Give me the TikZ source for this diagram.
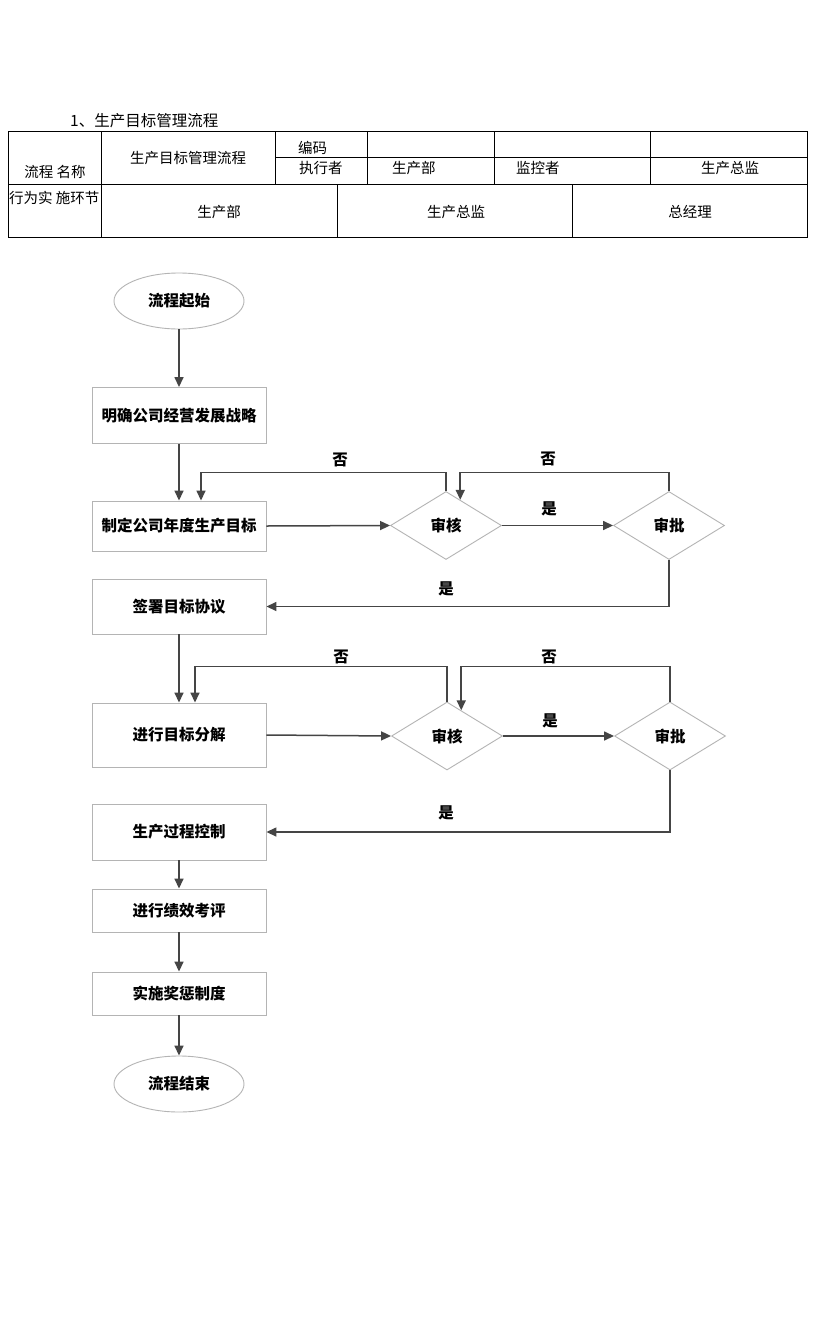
\documentclass[tikz,border=0pt]{standalone}
\usepackage{fontspec}
\setmainfont{Noto Sans CJK SC}
\usetikzlibrary{arrows.meta,shapes.geometric,calc}
\definecolor{arrowc}{HTML}{454545}
\definecolor{borderc}{HTML}{B4B4B4}
\tikzset{
  tbl/.style={draw=black,line width=0.9pt},
  ttext/.style={font=\fontsize{14.5}{16}\selectfont,inner sep=0pt},
  stepbox/.style={draw=borderc,line width=0.9pt,rectangle,minimum width=174pt,inner sep=0pt,font=\bfseries\fontsize{15.5}{18}\selectfont},
  term/.style={draw=borderc,line width=0.9pt,ellipse,minimum width=130pt,minimum height=56pt,inner sep=0pt,font=\bfseries\fontsize{15.5}{18}\selectfont},
  decide/.style={draw=borderc,line width=0.9pt,diamond,minimum width=111pt,minimum height=68pt,inner sep=0pt,font=\bfseries\fontsize{15.5}{18}\selectfont},
  arr/.style={draw=arrowc,line width=1.5pt,-{Triangle[length=10pt,width=9pt]}},
  lbl/.style={font=\bfseries\fontsize{15.5}{18}\selectfont,inner sep=0pt}
}
\begin{document}
\begin{tikzpicture}[x=1pt,y=-1pt]
\useasboundingbox[fill=white] (0,0) rectangle (816,1344);
% title
\node[ttext,anchor=west,font=\fontsize{15.5}{17}\selectfont] (title) at (70,121) {1、生产目标管理流程};
% table
\draw[tbl] (8,131) rectangle (807,237);
\draw[tbl] (8,184) -- (807,184);
\draw[tbl] (275,157) -- (807,157);
\draw[tbl] (101,131) -- (101,237);
\draw[tbl] (275,131) -- (275,184);
\draw[tbl] (367,131) -- (367,184);
\draw[tbl] (494,131) -- (494,184);
\draw[tbl] (650,131) -- (650,184);
\draw[tbl] (337,184) -- (337,237);
\draw[tbl] (572,184) -- (572,237);
\node[ttext] (t1) at (55,172) {流程 名称};
\node[ttext] (t2) at (188,158) {生产目标管理流程};
\node[ttext,anchor=west] (t3) at (298,148) {编码};
\node[ttext,anchor=west] (t4) at (299,168) {执行者};
\node[ttext,anchor=west] (t5) at (392,168) {生产部};
\node[ttext,anchor=west] (t6) at (516,168) {监控者};
\node[ttext] (t7) at (730,168) {生产总监};
\node[ttext,anchor=west] (t8) at (9,198) {行为实 施环节};
\node[ttext] (t9) at (219,212) {生产部};
\node[ttext] (t10) at (456,212) {生产总监};
\node[ttext] (t11) at (690,212) {总经理};
% flowchart nodes
\node[term] (start) at (179,301) {流程起始};
\node[stepbox,minimum height=56pt] (b1) at (179,415.5) {明确公司经营发展战略};
\node[stepbox,minimum height=50pt] (b2) at (179,526) {制定公司年度生产目标};
\node[stepbox,minimum height=55pt] (b3) at (179,606.5) {签署目标协议};
\node[stepbox,minimum height=64pt] (b4) at (179,735) {进行目标分解};
\node[stepbox,minimum height=56pt] (b5) at (179,832) {生产过程控制};
\node[stepbox,minimum height=43pt] (b6) at (179,910.5) {进行绩效考评};
\node[stepbox,minimum height=43pt] (b7) at (179,993.5) {实施奖惩制度};
\node[term] (end) at (179,1084) {流程结束};
\node[decide] (a1) at (446,525.5) {审核};
\node[decide] (p1) at (669,525.5) {审批};
\node[decide] (a2) at (447,736) {审核};
\node[decide] (p2) at (670,736) {审批};
% connectors
\draw[arr] (start) -- (b1);
\draw[arr] (b1) -- (b2);
\draw[arr] (b2.east) -- (a1.west);
\draw[arr] (a1.east) -- (p1.west);
\draw[arr] (p1.south) |- (b3.east);
\draw[arr] (a1.north) -- ++(0,-18.5) -| ([xshift=22pt]b2.north);
\draw[arr] (p1.north) -- ++(0,-18.5) -| (a1.61);
\draw[arr] (b3) -- (b4);
\draw[arr] (b4.east) -- (a2.west);
\draw[arr] (a2.east) -- (p2.west);
\draw[arr] (p2.south) |- (b5.east);
\draw[arr] (a2.north) -- ++(0,-35) -| ([xshift=16pt]b4.north);
\draw[arr] (p2.north) -- ++(0,-35) -| (a2.61);
\draw[arr] (b5) -- (b6);
\draw[arr] (b6) -- (b7);
\draw[arr] (b7) -- (end);
% labels
\node[lbl] (l1) at (340,460) {否};
\node[lbl] (l2) at (548,459) {否};
\node[lbl] (l3) at (549,509) {是};
\node[lbl] (l4) at (446,589) {是};
\node[lbl] (l5) at (341,657) {否};
\node[lbl] (l6) at (549,657) {否};
\node[lbl] (l7) at (550,721) {是};
\node[lbl] (l8) at (446,813) {是};
\end{tikzpicture}
\end{document}
